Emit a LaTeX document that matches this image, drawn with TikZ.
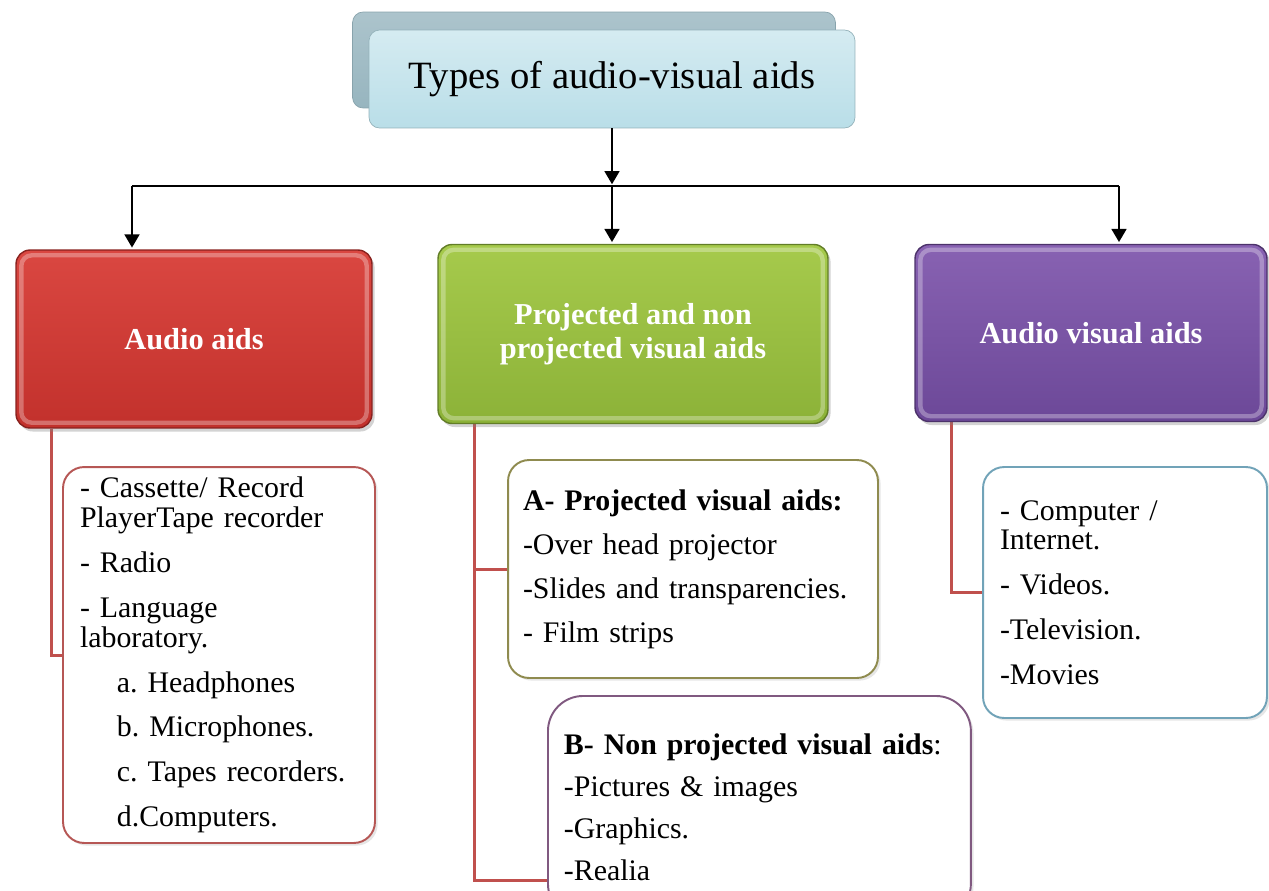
\documentclass[tikz,border=0pt]{standalone}
\usepackage{fontspec}
\setmainfont{Liberation Serif}
\usetikzlibrary{arrows.meta,backgrounds,shadows}
\frenchspacing

\definecolor{linkred}{HTML}{C0504D}
\definecolor{tfront}{HTML}{B9DEE8}
\definecolor{tback}{HTML}{97B5BF}
\definecolor{redtop}{HTML}{DA4741}
\definecolor{redbot}{HTML}{C2312C}
\definecolor{greentop}{HTML}{A6CA4C}
\definecolor{greenbot}{HTML}{8CB238}
\definecolor{purptop}{HTML}{8862B2}
\definecolor{purpbot}{HTML}{6C4898}

\begin{document}
\begin{tikzpicture}
		[x=0.02cm, y=-0.02cm, inner sep=0pt,
		font=\fontsize{17}{17}\selectfont,
		gloss/.style	= {path picture={\draw [white, opacity=0.3, line width=2.5pt, rounded corners=6pt]
				([shift={(3pt,-3pt)}]path picture bounding box.north west) rectangle
				([shift={(-3pt,3pt)}]path picture bounding box.south east);}},
		head/.style	= {rectangle, rounded corners=8pt, line width=0.8pt, gloss, text=white, align=center,
				font=\fontsize{17.3}{19.5}\selectfont\bfseries,
				drop shadow={opacity=0.35, shadow xshift=1.5pt, shadow yshift=-2pt}},
		list/.style	= {rectangle, rounded corners=12pt, line width=1.1pt, fill=white, align=left,
				inner xsep=0.34cm, drop shadow={opacity=0.2, shadow xshift=1.5pt, shadow yshift=-1.5pt}},
		paths/.style	= {-{Triangle[width=8.5pt,length=7.5pt]}, line width=1.1pt, shorten >= 1pt},
		branch/.style	= {draw=linkred, line width=1.7pt}]
		
		\clip (0,0) rectangle (1269,890);
		
		\node at (594,60)	[rectangle, rounded corners=6pt, minimum width=9.66cm, minimum height=1.92cm,
				top color=tback!80!white, bottom color=tback, draw=tback!90!black]	(tback)	{};
		\node at (612,79)	[rectangle, rounded corners=6pt, minimum width=9.72cm, minimum height=1.96cm,
				top color=tfront!60!white, bottom color=tfront, draw=tfront!80!black,
				font=\fontsize{22}{22}\selectfont]	(title)	{Types of audio-visual aids};
		
		\node at (194,339)	[head, top color=redtop, bottom color=redbot, draw=redbot!70!black,
				minimum width=7.12cm, minimum height=3.56cm]	(audio)	{Audio aids};
		\node at (633,334)	[head, top color=greentop, bottom color=greenbot, draw=greenbot!70!black,
				minimum width=7.8cm, minimum height=3.58cm]	(visual)	{Projected and non\\projected visual aids};
		\node at (1091,333)	[head, top color=purptop, bottom color=purpbot, draw=purpbot!70!black,
				minimum width=7.04cm, minimum height=3.54cm]	(avaids)	{Audio visual aids};
		
		\node at (219,655)	[list, draw=linkred!85!gray, text width=5.56cm, minimum height=7.52cm]	(alist)
				{- Cassette/ Record\\PlayerTape recorder\\[8.5pt]- Radio\\[8.5pt]- Language\\laboratory.\\[8.5pt]
				\hspace*{21pt}a. Headphones\\[8.5pt]\hspace*{21pt}b. Microphones.\\[8.5pt]
				\hspace*{21pt}c. Tapes recorders.\\[8.5pt]\hspace*{21pt}d.Computers.};
		\node at (693,569)	[list, draw=olive!45!gray, inner xsep=0.3cm, text width=6.8cm, minimum height=4.36cm]	(proj)
				{\textbf{A- Projected visual aids:}\\[8pt]-Over head projector\\[8pt]-Slides and transparencies.\\[8pt]- Film strips};
		\node at (547,695)	[list, anchor=north west, rounded corners=20pt, draw=violet!30!gray, inner xsep=0.32cm,
				text width=7.82cm, minimum height=4.46cm]	(nonproj)
				{\textbf{B- Non projected visual aids}:\\[7pt]-Pictures \& images\\[7pt]-Graphics.\\[7pt]-Realia};
		\node at (1125,592.5)	[list, draw=cyan!40!gray, text width=5cm, minimum height=5.02cm]	(avlist)
				{- Computer /\\Internet.\\[8.5pt]- Videos.\\[8.5pt]-Television.\\[8.5pt]-Movies};
		
		\coordinate (hub)	at (612,186);
		\coordinate (hl)	at (132,186);
		\coordinate (hr)	at (1119,186);
		
		\draw [paths] (title) -- (hub);
		\draw [line width=1.1pt] (hl) -- (hr);
		\draw [paths] (hl) -- (hl |- audio.north);
		\draw [paths] (hub) -- (hub |- visual.north);
		\draw [paths] (hr) -- (hr |- avaids.north);
		
		\begin{scope}[on background layer]
		\draw [branch] (audio.south west) ++(36,0) |- (alist.west);
		\draw [branch] (visual.south west) ++(37,0) |- (proj.west);
		\draw [branch] (visual.south west) ++(37,0) |- ([yshift=-1.46cm]nonproj.west);
		\draw [branch] (avaids.south west) ++(37,0) |- (avlist.west);
		\end{scope}
		
		\end{tikzpicture}
\end{document}
